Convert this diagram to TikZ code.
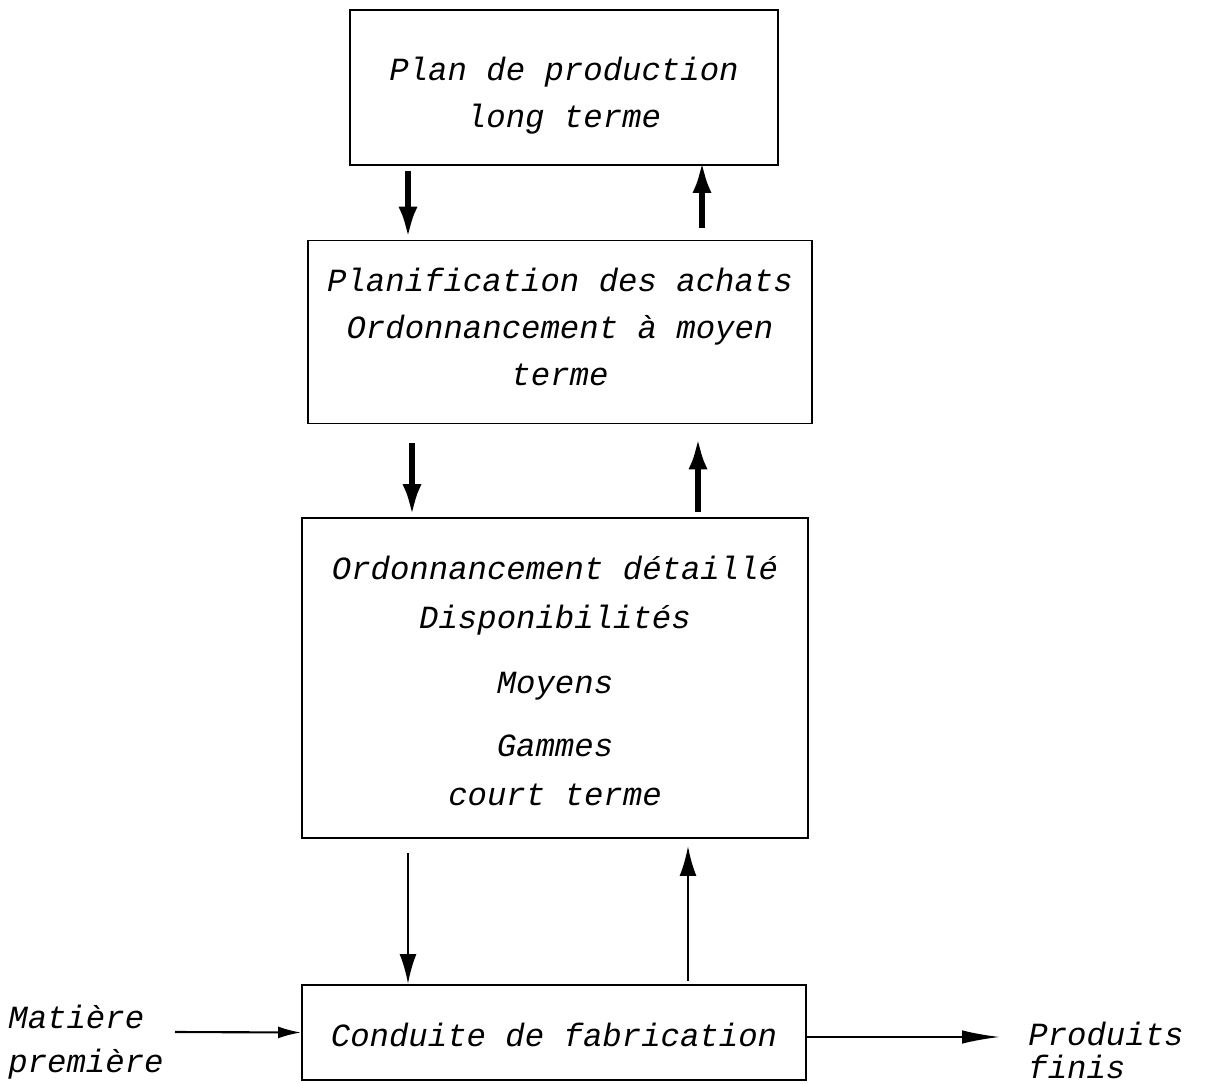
\documentclass[tikz,border=0pt]{standalone}
\usepackage{fontspec}
\setmonofont{Liberation Mono}
\usepackage{tikz}
\usetikzlibrary{arrows.meta}
\usetikzlibrary{positioning}
\tikzset{>=latex}
\tikzstyle{box} = [rectangle, draw=black, line width=1.1pt, inner sep=0pt]
\tikzstyle{boxtext} = [align=center, inner sep=0pt, font=\ttfamily\itshape\fontsize{18.4pt}{26.7pt}\selectfont]
\tikzstyle{sidetext} = [align=left, anchor=west, inner sep=0pt, font=\ttfamily\itshape\fontsize{18.4pt}{25pt}\selectfont]
\tikzstyle{bigarrow} = [-{Latex[length=0.66cm, width=0.38cm]}, line width=3.8pt]
\tikzstyle{smallarrow} = [-{Latex[length=0.6cm, width=0.34cm]}, line width=1.5pt]
\tikzstyle{flow} = [-{Latex[length=0.46cm, width=0.24cm]}, line width=1.2pt]

\begin{document}
\begin{tikzpicture}
\useasboundingbox (0,0) rectangle (24.3,-21.68);
\node [box, minimum width=8.56cm, minimum height=3.10cm,
  label={[boxtext, yshift=-0.16cm]center:{Plan de production\\long terme}}] (plan) at (11.28,-1.75) {};
\node [box, minimum width=10.08cm, minimum height=3.66cm,
  label={[boxtext, yshift=0.1cm]center:{Planification des achats\\Ordonnancement à moyen\\terme}}] (achats) at (11.2,-6.64) {};
\node [box, minimum width=10.12cm, minimum height=6.40cm,
  label={[boxtext, yshift=-0.06cm, font=\ttfamily\itshape\fontsize{18.4pt}{28pt}\selectfont]center:{Ordonnancement détaillé\\Disponibilités\\[0.32cm]Moyens\\[0.28cm]Gammes\\court terme}}] (detail) at (11.1,-13.56) {};
\node [box, minimum width=10.08cm, minimum height=1.90cm,
  label={[boxtext, yshift=-0.04cm]center:Conduite de fabrication}] (conduite) at (11.08,-20.65) {};
\node [sidetext] (matiere) at (0.16,-20.84) {Matière\\première};
\node [sidetext, font=\ttfamily\itshape\fontsize{18.4pt}{18.8pt}\selectfont] (produits) at (20.56,-21.0) {Produits\\finis};
\coordinate (d1) at (8.16,0);
\coordinate (u1) at (14.04,0);
\coordinate (d2) at (8.24,0);
\coordinate (u2) at (13.96,0);
\coordinate (d3) at (8.16,0);
\coordinate (u3) at (13.76,0);
\coordinate (in) at (3.5,-20.64);
\coordinate (out) at (20.0,-20.74);
\draw [bigarrow, shorten <=0.1cm] (plan.south -| d1) -- (achats.north -| d1);
\draw [bigarrow, shorten <=0.24cm, shorten >=-0.12cm] (achats.north -| u1) -- (plan.south -| u1);
\draw [bigarrow, shorten <=0.38cm] (achats.south -| d2) -- (detail.north -| d2);
\draw [bigarrow, shorten <=0.1cm, shorten >=0.24cm] (detail.north -| u2) -- (achats.south -| u2);
\draw [smallarrow, shorten <=0.28cm] (detail.south -| d3) -- (conduite.north -| d3);
\draw [smallarrow, shorten <=0.06cm, shorten >=0.14cm] (conduite.north -| u3) -- (detail.south -| u3);
\draw [flow] (in) -- (conduite.west);
\draw [flow, -{Latex[length=0.76cm, width=0.27cm]}] (conduite.east |- out) -- (out);
\end{tikzpicture}
\end{document}
